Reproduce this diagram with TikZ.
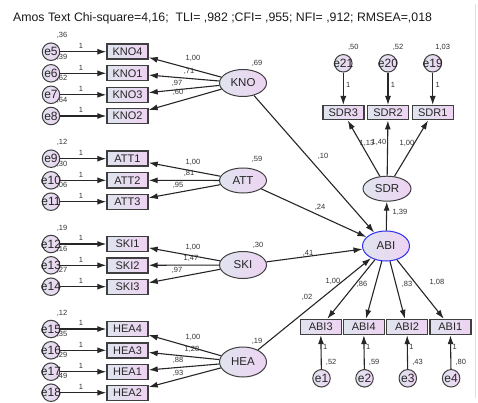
\documentclass[tikz,border=0pt]{standalone}
\usepackage{fontspec}
\setmainfont{Liberation Sans}
\usetikzlibrary{shapes.geometric,arrows.meta}
\definecolor{fillL}{HTML}{E0E4EF}
\definecolor{fillR}{HTML}{EED3F2}
\definecolor{edge}{HTML}{3F3F3F}
\definecolor{abiblue}{HTML}{2F2FF0}
\newcommand\ez[1]{\makebox[0pt]{#1}}
\begin{document}
\begin{tikzpicture}[x=1pt,y=-1pt,
  obs/.style={draw=edge, line width=1.4pt, minimum width=41pt, minimum height=15pt, inner sep=0pt,
    left color=fillL, right color=fillR, font=\fontsize{11}{11}\selectfont, text=black!85},
  lat/.style={ellipse, draw=edge, line width=1pt, minimum width=47pt, minimum height=27pt, inner sep=0pt,
    left color=fillL, right color=fillR, font=\fontsize{11.5}{11.5}\selectfont, text=black!85},
  err/.style={circle, draw=edge, line width=1pt, minimum size=17.5pt, inner sep=0pt,
    left color=fillL, right color=fillR, font=\fontsize{12}{12}\selectfont, text=black!85},
  arr/.style={-{Latex[length=9pt,width=6pt]}, line width=1.1pt, draw=black!85},
  lab/.style={font=\fontsize{7.5}{7.5}\selectfont, inner sep=0pt, text=black!80}
]
\useasboundingbox (0,0) rectangle (478,403);
\draw[black!12, line width=0.8pt] (475,4) -- (475,398);
\node[anchor=west, inner sep=0pt, font=\fontsize{12.3}{12.3}\selectfont, text=black!90] (title) at (13,18)
  {Amos Text Chi-square=4,16;\ \ TLI= ,982 ;CFI= ,955; NFI= ,912; RMSEA=,018};

% ---------- left measurement blocks ----------
\foreach \n/\e/\y/\v in {KNO4/e5/51.7/{,36}, KNO1/e6/73.3/{,39}, KNO3/e7/94.8/{,62}, KNO2/e8/116/{,64},
  ATT1/e9/158.7/{,12}, ATT2/e10/180.3/{,30}, ATT3/e11/201.7/{,06},
  SKI1/e12/244/{,19}, SKI2/e13/265.3/{,16}, SKI3/e14/286.7/{,27},
  HEA4/e15/329/{,12}, HEA3/e16/350.3/{,35}, HEA1/e17/371.7/{,29}, HEA2/e18/392.7/{,49}}{
  \node[obs] (\n) at (127.5,\y) {\n};
  \node[err] (\e) at (51,\y) {\ez{\e}};
  \draw[arr] (\e) -- node[lab, above=2.5pt, pos=0.45] (\e one) {1} (\n);
  \node[lab] (\e var) at (62,\y-16) {\v};
}

\node[lat] (KNO) at (243,83) {KNO};
\node[lat, minimum height=25pt] (ATT) at (243,180.5) {ATT};
\node[lat] (SKI) at (243,265) {SKI};
\node[lat, minimum height=30pt] (HEA) at (243,362) {HEA};

\node[lab] (KNOv) at (257,63) {,69};
\node[lab] (ATTv) at (257,159) {,59};
\node[lab] (SKIv) at (258,245) {,30};
\node[lab] (HEAv) at (257,341) {,19};

\foreach \a/\b in {KNO/KNO4, KNO/KNO1, KNO/KNO3, KNO/KNO2, ATT/ATT1, ATT/ATT2, ATT/ATT3,
  SKI/SKI1, SKI/SKI2, SKI/SKI3, HEA/HEA4, HEA/HEA3, HEA/HEA1, HEA/HEA2}
  \draw[arr] (\a) -- (\b);

\node[lab] (lk4) at (193,58) {1,00};
\node[lab] (lk1) at (189,71) {,71};
\node[lab] (lk3) at (177,83) {,97};
\node[lab] (lk2) at (178,92) {,60};
\node[lab] (la1) at (193,162) {1,00};
\node[lab] (la2) at (189,173) {,81};
\node[lab] (la3) at (178,185) {,95};
\node[lab] (ls1) at (193,247) {1,00};
\node[lab] (ls2) at (191,258) {1,47};
\node[lab] (ls3) at (177,270) {,97};
\node[lab] (lh4) at (193,337) {1,00};
\node[lab] (lh3) at (192,349) {1,28};
\node[lab] (lh1) at (178,360) {,88};
\node[lab] (lh2) at (178,373) {,93};

% ---------- ABI and SDR ----------
\node[lat, draw=abiblue, minimum height=30pt] (ABI) at (386,246) {ABI};
\node[lat, minimum width=48pt, minimum height=25pt] (SDR) at (387,188.7) {SDR};

\draw[arr] (KNO) -- (ABI);
\draw[arr] (ATT) -- (ABI);
\draw[arr] (SKI) -- (ABI);
\draw[arr] (HEA) -- (ABI);
\draw[arr] (ABI) -- (SDR);

\node[lab] (p10) at (323,156) {,10};
\node[lab] (p24) at (320,207) {,24};
\node[lab] (p41) at (308,253) {,41};
\node[lab] (p02) at (307,297) {,02};
\node[lab] (p139) at (400,212) {1,39};

\foreach \n/\e/\x/\v in {SDR3/e21/343.3/{,50}, SDR2/e20/388/{,52}, SDR1/e19/432.7/{1,03}}{
  \node[obs, minimum height=14pt] (\n) at (\x,112.7) {\n};
  \node[err] (\e) at (\x,63.3) {\ez{\e}};
  \draw[arr] (\e) -- (\n);
  \node[lab] (\e one) at (\x+5,85) {1};
  \node[lab] (\e var) at (\x+10,47.5) {\v};
  \draw[arr] (SDR) -- (\n);
}
\node[lab] (s3) at (367,143) {1,13};
\node[lab] (s2) at (379,142) {1,40};
\node[lab] (s1) at (407,143) {1,00};

\foreach \n/\e/\x/\v in {ABI3/e1/320.7/{,52}, ABI4/e2/363.7/{,59}, ABI2/e3/407/{,43}, ABI1/e4/450.3/{,80}}{
  \node[obs] (\n) at (\x,327) {\n};
  \node[err] (\e) at (\x+0.8,378.3) {\ez{\e}};
  \draw[arr] (\e) -- (\n);
  \node[lab] (\e one) at (\x+4.5,347) {1};
  \node[lab] (\e var) at (\x+10.5,362) {\v};
  \draw[arr] (ABI) -- (\n);
}
\node[lab] (b3) at (333,281) {1,00};
\node[lab] (b4) at (362,284) {,86};
\node[lab] (b2) at (407,284) {,83};
\node[lab] (b1) at (437,282) {1,08};
\end{tikzpicture}
\end{document}
